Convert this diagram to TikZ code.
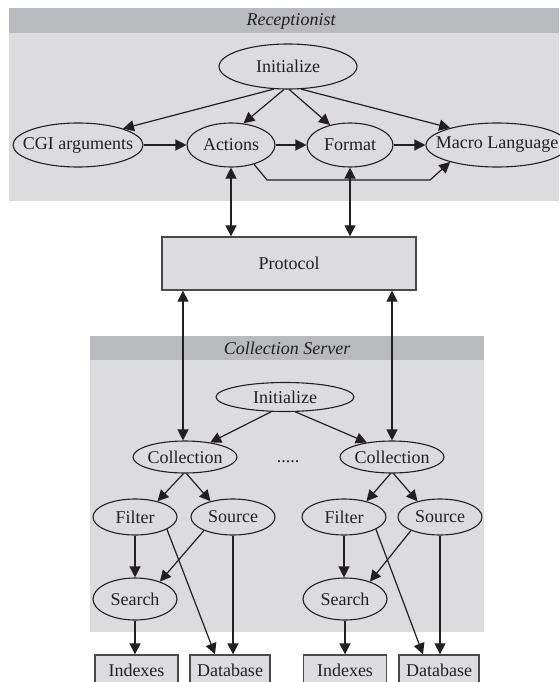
\documentclass[tikz,border=0pt]{standalone}
\usepackage{fontspec}
\setmainfont{Liberation Serif}
\usetikzlibrary{shapes.geometric,arrows.meta}
\definecolor{bandhead}{HTML}{B9BABE}
\definecolor{bandbody}{HTML}{DCDCDE}
\definecolor{ink}{HTML}{231F20}
\definecolor{boxline}{HTML}{4A4A4A}
% text of fixed-size ovals takes no width, so the oval keeps its given size
\newcommand{\ctext}[1]{\makebox[0pt]{#1}}
\tikzset{
  lbl/.style={font=\fontsize{18}{21}\selectfont, text=ink},
  oval/.style={lbl, ellipse, draw=ink, line width=1.1pt, inner sep=0pt},
  store/.style={lbl, rectangle, draw=boxline, line width=1.3pt, fill=bandbody,
    minimum width=83pt, minimum height=30pt, inner sep=0pt},
  bandtitle/.style={font=\fontsize{18}{21}\selectfont\itshape, text=ink},
  flow/.style={draw=ink, line width=1.2pt, -{Triangle[length=11pt,width=11pt]}},
  twoway/.style={draw=ink, line width=1.2pt,
    {Triangle[length=11pt,width=11pt]}-{Triangle[length=11pt,width=11pt]}},
}
\begin{document}
\begin{tikzpicture}[x=1pt,y=-1pt]
\useasboundingbox (0,0) rectangle (559,682);

% Receptionist band
\fill[bandhead] (9,8) rectangle (559,33);
\fill[bandbody] (9,33) rectangle (559,201);
\node[bandtitle] (rtitle) at (291,21) {Receptionist};

% Collection Server band
\fill[bandhead] (90,336) rectangle (484,360);
\fill[bandbody] (90,360) rectangle (484,632);
\node[bandtitle] (ctitle) at (287,348) {Collection Server};

% Receptionist components
\node[oval, minimum width=138pt, minimum height=45pt] (rinit) at (288,66.5) {\ctext{Initialize}};
\node[oval, minimum width=130pt, minimum height=44pt] (cgi) at (78,145) {\ctext{CGI arguments}};
\node[oval, minimum width=88pt, minimum height=44pt] (act) at (231,145) {\ctext{Actions}};
\node[oval, minimum width=86pt, minimum height=44pt] (fmt) at (350,145) {\ctext{Format}};
\node[oval, minimum width=142pt, minimum height=44pt] (mac) at (497,145) {\ctext{Macro Language}};

% Protocol
\node[lbl, rectangle, draw=boxline, fill=bandbody, line width=1.3pt,
  minimum width=254pt, minimum height=53pt] (proto) at (289,263.5) {Protocol};

% Collection Server components
\node[oval, minimum width=138pt, minimum height=29pt] (cinit) at (285,397) {\ctext{Initialize}};
\node[oval, minimum width=104pt, minimum height=32pt] (colL) at (185,457) {\ctext{Collection}};
\node[oval, minimum width=104pt, minimum height=32pt] (colR) at (392,457) {\ctext{Collection}};
\node[lbl, anchor=base] (dots) at (288,462) {.....};
\node[oval, minimum width=84pt, minimum height=36pt] (filL) at (135,517) {\ctext{Filter}};
\node[oval, minimum width=84pt, minimum height=36pt] (srcL) at (233,517) {\ctext{Source}};
\node[oval, minimum width=84pt, minimum height=36pt] (filR) at (344,517) {\ctext{Filter}};
\node[oval, minimum width=84pt, minimum height=36pt] (srcR) at (440,517) {\ctext{Source}};
\node[oval, minimum width=84pt, minimum height=42pt] (seaL) at (135,599) {\ctext{Search}};
\node[oval, minimum width=84pt, minimum height=42pt] (seaR) at (345,599) {\ctext{Search}};
\node[store] (idxL) at (136.5,670) {Indexes};
\node[store, minimum width=80pt] (dbL) at (230,670) {Database};
\node[store] (idxR) at (345,670) {Indexes};
\node[store, minimum width=80pt] (dbR) at (439,670) {Database};

% Receptionist connectors
\draw[flow] (rinit.-122) -- (cgi.20);
\draw[flow] (rinit.-100) -- (act.60);
\draw[flow] (rinit.-87) -- (fmt.135);
\draw[flow] (rinit.-60) -- (mac.160);
\draw[flow] (cgi) -- (act);
\draw[flow] (act) -- (fmt);
\draw[flow] (fmt) -- (mac);
\coordinate (bendA) at (267,180);
\coordinate (bendB) at (430,180);
\draw[flow] (act.-40) -- (bendA) -- (bendB) -- (mac.-160);

% Protocol links
\draw[twoway] (act.south) -- (act.south |- proto.north);
\draw[twoway] (fmt.south) -- (fmt.south |- proto.north);
\draw[twoway] ([xshift=-2pt]proto.south -| colL.north) -- ([xshift=-2pt]colL.north);
\draw[twoway] (proto.south -| colR.north) -- (colR.north);

% Collection Server connectors
\draw[flow] (cinit.-133) -- (colL.30);
\draw[flow] (cinit.-55) -- (colR.150);
\draw[flow] (colL.-95) -- (filL.35);
\draw[flow] (colL.-85) -- (srcL.145);
\draw[flow] (colR.-95) -- (filR.35);
\draw[flow] (colR.-85) -- (srcR.145);

\draw[flow] (filL.south) -- (filL.south |- seaL.north);
\draw[flow] (srcL.-155) -- (seaL.35);
\draw[flow] (filL.-21) -- ([xshift=-15pt]dbL.north);
\draw[flow] (srcL.south) -- (srcL.south |- dbL.north);
\draw[flow] (seaL.south) -- (seaL.south |- idxL.north);

\draw[flow] (filR.south) -- (filR.south |- seaR.north);
\draw[flow] (srcR.-155) -- (seaR.35);
\draw[flow] (filR.-21) -- ([xshift=-16pt]dbR.north);
\draw[flow] (srcR.south) -- (srcR.south |- dbR.north);
\draw[flow] (seaR.south) -- (seaR.south |- idxR.north);
\end{tikzpicture}
\end{document}
